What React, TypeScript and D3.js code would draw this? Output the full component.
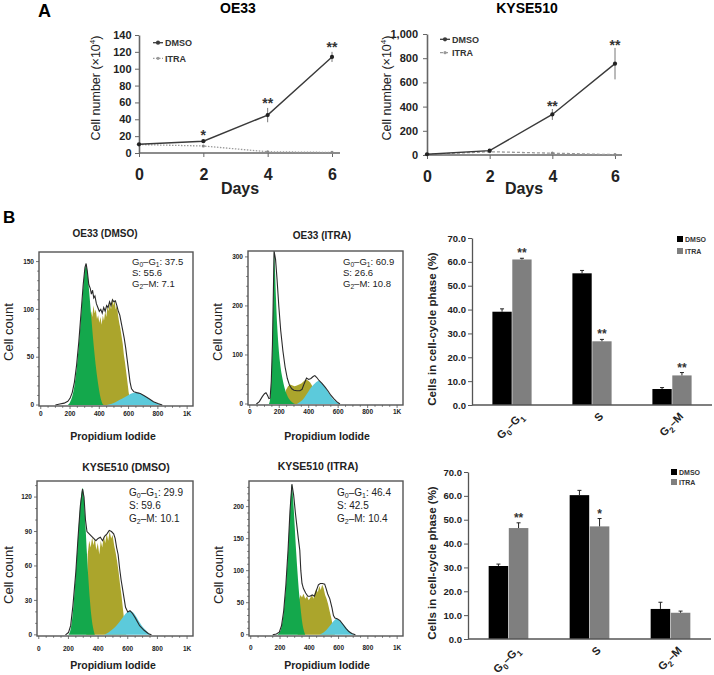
import React, { useEffect, useRef } from 'react';
import * as d3 from 'd3';

const W = 714;
const H = 675;
const FONT = '"Liberation Sans", Arial, Helvetica, sans-serif';

// ---------- Panel A: growth curves, cell number (x10^4) ----------
const days = [0, 2, 4, 6];

const oe33Dmso = [10.3, 14, 45, 114];
const oe33DmsoErr = [0.6, 2, 8.5, 6];
const oe33Itra = [10, 8.3, 1.5, 0.7];
const oe33Stars = ['', '*', '**', '**'];
const oe33YTicks = [0, 20, 40, 60, 80, 100, 120, 140];

const kyseDmso = [6, 36, 335, 755];
const kyseDmsoErr = [3, 6, 45, 130];
const kyseItra = [5, 27, 15, 3];
const kyseStars = ['', '', '**', '**'];
const kyseYTicks = [0, 200, 400, 600, 800, 1000];

// ---------- Panel B: PI histograms, [channel, cell count] ----------
type Pt = [number, number];

const oe33DmsoG1: Pt[] = [[185, 0], [200, 3], [215, 9], [230, 20], [245, 38], [260, 62], [275, 92], [290, 122], [302, 142], [310, 147], [318, 140], [330, 120], [345, 92], [360, 65], [375, 42], [390, 24], [405, 10], [420, 2], [430, 0]];
const oe33DmsoS: Pt[] = [[315, 0], [325, 60], [335, 88], [345, 98], [352, 92], [360, 104], [368, 96], [376, 100], [384, 90], [392, 94], [400, 86], [408, 92], [416, 84], [424, 94], [432, 88], [440, 98], [448, 92], [456, 104], [464, 98], [472, 108], [480, 100], [488, 112], [496, 104], [504, 110], [512, 100], [520, 104], [528, 94], [536, 86], [544, 80], [552, 72], [560, 64], [568, 52], [576, 44], [584, 34], [592, 24], [600, 14], [608, 6], [615, 0]];
const oe33DmsoG2: Pt[] = [[450, 0], [480, 1], [510, 3], [540, 5.5], [570, 8], [600, 10.5], [630, 12.5], [655, 13], [680, 12], [710, 9.5], [740, 6.5], [770, 3.5], [800, 1.5], [830, 0]];
const oe33DmsoTotal: Pt[] = [[100, 0], [130, 1], [160, 2], [185, 4], [200, 7], [215, 13], [230, 24], [245, 42], [260, 66], [275, 96], [290, 126], [302, 144], [310, 148], [318, 140], [328, 126], [338, 122], [346, 116], [354, 120], [362, 112], [370, 114], [380, 106], [390, 102], [400, 98], [410, 100], [420, 96], [430, 102], [440, 98], [450, 104], [460, 102], [470, 108], [480, 104], [490, 110], [500, 108], [510, 109], [520, 104], [530, 98], [540, 94], [550, 86], [560, 78], [570, 70], [580, 60], [590, 48], [600, 36], [610, 24], [620, 17], [635, 14], [655, 13], [680, 12], [710, 9.5], [740, 6.5], [770, 3.5], [800, 1.5], [830, 0]];

const oe33ItraG1: Pt[] = [[130, 0], [138, 10], [146, 45], [154, 120], [160, 220], [165, 312], [171, 275], [178, 215], [186, 160], [195, 118], [205, 85], [218, 58], [232, 38], [248, 22], [265, 11], [285, 4], [307, 0]];
const oe33ItraS: Pt[] = [[230, 0], [245, 28], [260, 36], [275, 40], [290, 38], [305, 36], [320, 38], [335, 40], [350, 42], [365, 46], [380, 50], [395, 48], [410, 44], [425, 36], [440, 24], [455, 10], [470, 0]];
const oe33ItraG2: Pt[] = [[320, 0], [345, 5], [370, 13], [395, 24], [420, 35], [445, 43], [465, 47], [485, 44], [510, 35], [535, 23], [560, 12], [585, 5], [610, 0]];
const oe33ItraTotal: Pt[] = [[45, 0], [65, 5], [85, 15], [100, 21], [110, 23], [120, 18], [130, 11], [138, 12], [146, 46], [154, 122], [160, 225], [165, 312], [175, 295], [185, 255], [197, 200], [210, 150], [225, 108], [240, 75], [255, 52], [270, 38], [285, 31], [300, 28], [320, 27], [340, 27], [355, 30], [370, 42], [385, 53], [400, 50], [415, 52], [430, 56], [442, 58], [455, 54], [470, 48], [490, 42], [510, 35], [530, 27], [550, 18], [570, 11], [590, 5], [612, 0]];

const kyseDmsoG1: Pt[] = [[200, 0], [215, 5], [230, 20], [245, 45], [260, 75], [275, 105], [290, 125], [297, 128], [305, 118], [315, 95], [325, 70], [335, 48], [345, 30], [355, 16], [365, 7], [378, 0]];
const kyseDmsoS: Pt[] = [[320, 0], [330, 70], [340, 82], [350, 76], [360, 85], [368, 78], [378, 84], [388, 74], [398, 80], [408, 70], [418, 82], [428, 76], [438, 86], [448, 80], [458, 88], [468, 82], [478, 90], [488, 84], [498, 87], [508, 78], [518, 72], [528, 64], [538, 55], [548, 44], [558, 34], [568, 22], [578, 10], [590, 0]];
const kyseDmsoG2: Pt[] = [[440, 0], [470, 2], [500, 5], [530, 9], [560, 14], [590, 19], [615, 21], [640, 19], [670, 13], [700, 7], [730, 3], [755, 0]];
const kyseDmsoTotal: Pt[] = [[180, 0], [200, 2], [215, 8], [230, 25], [250, 55], [265, 85], [280, 112], [295, 127], [305, 120], [315, 100], [325, 90], [340, 88], [355, 86], [370, 84], [385, 82], [400, 84], [415, 85], [430, 82], [445, 86], [460, 88], [475, 91], [490, 90], [505, 88], [515, 84], [525, 76], [535, 70], [545, 58], [555, 48], [565, 40], [575, 32], [585, 24], [600, 20], [615, 21], [630, 19], [650, 15], [680, 8], [710, 4], [740, 1], [760, 0]];

const kyseItraG1: Pt[] = [[180, 0], [195, 3], [210, 12], [225, 35], [240, 75], [255, 130], [268, 190], [281, 234], [290, 210], [300, 170], [310, 130], [320, 95], [330, 65], [340, 42], [350, 22], [360, 9], [372, 0]];
const kyseItraS: Pt[] = [[320, 0], [330, 55], [340, 62], [350, 58], [360, 64], [372, 56], [384, 60], [396, 54], [408, 58], [418, 62], [428, 56], [438, 66], [448, 72], [458, 66], [468, 76], [478, 70], [488, 78], [498, 72], [508, 62], [518, 56], [528, 48], [540, 36], [552, 24], [562, 12], [575, 0]];
const kyseItraG2: Pt[] = [[470, 0], [495, 3], [520, 8], [545, 15], [565, 21], [585, 25], [605, 23], [630, 17], [655, 10], [680, 4], [712, 0]];
const kyseItraTotal: Pt[] = [[150, 0], [175, 1], [195, 4], [210, 14], [225, 37], [240, 78], [255, 133], [268, 193], [281, 235], [293, 218], [305, 190], [315, 170], [325, 150], [335, 132], [342, 100], [350, 80], [360, 72], [375, 65], [390, 60], [405, 60], [420, 62], [435, 60], [450, 70], [462, 78], [475, 80], [490, 80], [505, 79], [515, 72], [525, 64], [540, 56], [555, 42], [565, 30], [575, 26], [590, 25], [610, 22], [630, 16], [650, 10], [670, 5], [690, 2], [715, 0]];

const piTicks = [0, 200, 400, 600, 800, 1000];

// ---------- Panel B: cell-cycle phase (%) ----------
const phases = ['G0–G1', 'S', 'G2–M'];
const groups = ['DMSO', 'ITRA'];
const pctTicks = [0, 10, 20, 30, 40, 50, 60, 70];

const oe33PhaseDmso = [39.1, 55.2, 6.7];
const oe33PhaseDmsoErr = [1.2, 1.2, 0.6];
const oe33PhaseItra = [61.0, 26.7, 12.4];
const oe33PhaseItraErr = [0.5, 0.8, 1.2];
const oe33PhaseStars = ['**', '**', '**'];

const kysePhaseDmso = [30.6, 60.3, 12.6];
const kysePhaseDmsoErr = [0.8, 2.0, 2.8];
const kysePhaseItra = [46.5, 47.2, 11.0];
const kysePhaseItraErr = [2.2, 3.3, 0.7];
const kysePhaseStars = ['**', '*', ''];

const GREEN = '#14a84c';
const OLIVE = '#aba52c';
const CYAN = '#5ccadb';

type Part = [string, boolean];
const phaseParts: Part[][] = [
  [['G', false], ['0', true], ['–G', false], ['1', true]],
  [['S', false]],
  [['G', false], ['2', true], ['–M', false]],
];

function rich(text: any, parts: Part[], subSize: number, shiftRatio = 0.45) {
  let down = false;
  const shift = subSize * shiftRatio;
  parts.forEach(([s, sub]) => {
    const t = text.append('tspan').text(s);
    if (sub) {
      t.attr('font-size', subSize);
      if (!down) { t.attr('dy', shift); down = true; }
    } else if (down) {
      t.attr('dy', -shift);
      down = false;
    }
  });
}

function drawGrowth(svg: any, o: any) {
  const g = svg.append('g');
  const x = d3.scaleLinear().domain([0, 6]).range([o.left, o.right]);
  const y = d3.scaleLinear().domain([0, o.yMax]).range([o.bottom, o.top]);

  g.append('text').attr('x', o.titleX).attr('y', 12.5).attr('text-anchor', 'middle')
    .attr('font-size', 14).attr('font-weight', 'bold').text(o.title);

  const ya = g.append('g').attr('transform', `translate(${o.left},0)`)
    .call(d3.axisLeft(y).tickValues(o.yTicks).tickSize(4).tickSizeOuter(0).tickPadding(o.tickPad).tickFormat(o.fmt));
  ya.select('.domain').attr('stroke', '#666').attr('stroke-width', 1.6);
  ya.selectAll('.tick line').attr('stroke', '#666');
  ya.selectAll('text').attr('font-size', 11).attr('font-weight', 'bold').attr('font-family', FONT).attr('fill', '#222');

  const xa = g.append('g').attr('transform', `translate(0,${o.bottom})`)
    .call(d3.axisBottom(x).tickValues(days).tickSize(4).tickSizeOuter(0).tickPadding(12).tickFormat(d3.format('d')));
  xa.select('.domain').remove();
  xa.selectAll('.tick line').attr('stroke', '#666');
  xa.selectAll('text').attr('font-size', 16).attr('font-weight', 'bold').attr('font-family', FONT).attr('fill', '#222');
  g.append('line').attr('x1', o.left).attr('x2', o.axisEnd).attr('y1', y(0)).attr('y2', y(0))
    .attr('stroke', '#666').attr('stroke-width', 1.6);

  g.append('text').attr('x', o.daysX).attr('y', 194).attr('text-anchor', 'middle')
    .attr('font-size', 16).attr('font-weight', 'bold').attr('fill', '#222').text('Days');

  const yl = g.append('text').attr('transform', `translate(${o.labelX},${o.labelY}) rotate(-90)`)
    .attr('text-anchor', 'middle').attr('font-size', 12.5).attr('fill', '#222');
  yl.append('tspan').text('Cell number (×10');
  yl.append('tspan').text('4').attr('font-size', 8).attr('dy', -5);
  yl.append('tspan').text(')').attr('dy', 5);

  const line = d3.line<number>().x((_, i) => x(days[i])).y(v => y(v));

  // ITRA
  g.append('path').datum(o.itra).attr('d', line).attr('fill', 'none')
    .attr('stroke', '#9a9a9a').attr('stroke-width', 1.3).attr('stroke-dasharray', o.itraDash);
  g.selectAll(null).data(o.itra).enter().append('circle')
    .attr('cx', (_: any, i: number) => x(days[i])).attr('cy', (v: number) => y(v)).attr('r', 1.6).attr('fill', '#888');

  // DMSO error bars
  g.selectAll(null).data(o.dmso).enter().append('line')
    .attr('x1', (_: any, i: number) => x(days[i])).attr('x2', (_: any, i: number) => x(days[i]))
    .attr('y1', (v: number, i: number) => y(v - o.err[i])).attr('y2', (v: number, i: number) => y(v + o.err[i]))
    .attr('stroke', '#777').attr('stroke-width', 1);
  g.append('path').datum(o.dmso).attr('d', line).attr('fill', 'none')
    .attr('stroke', '#3a3a3a').attr('stroke-width', 1.4);
  g.selectAll(null).data(o.dmso).enter().append('circle')
    .attr('cx', (_: any, i: number) => x(days[i])).attr('cy', (v: number) => y(v)).attr('r', 2.1).attr('fill', '#222');

  g.selectAll(null).data(o.dmso).enter().append('text')
    .attr('x', (_: any, i: number) => x(days[i])).attr('y', (v: number, i: number) => y(v + o.err[i]) + o.starDy)
    .attr('text-anchor', 'middle').attr('font-size', 14).attr('font-weight', 'bold').attr('fill', '#333')
    .text((_: any, i: number) => o.stars[i]);

  // legend
  const items = [
    { label: 'DMSO', dash: null, color: '#3a3a3a', r: 2.1 },
    { label: 'ITRA', dash: o.itraDash, color: '#9a9a9a', r: 1.6 },
  ];
  items.forEach((it, i) => {
    const ly = o.legendY[i];
    g.append('line').attr('x1', o.legendX).attr('x2', o.legendX + 10).attr('y1', ly).attr('y2', ly)
      .attr('stroke', it.color).attr('stroke-width', 1.3).attr('stroke-dasharray', it.dash);
    g.append('circle').attr('cx', o.legendX + 5).attr('cy', ly).attr('r', it.r).attr('fill', it.color);
    g.append('text').attr('x', o.legendX + 12).attr('y', ly + 3.3).attr('font-size', 9)
      .attr('font-weight', 'bold').attr('fill', '#333').text(it.label);
  });
}

function drawHist(svg: any, o: any) {
  const g = svg.append('g');
  const x = d3.scaleLinear().domain([-12, 1040]).range([o.left, o.right]);
  const y = d3.scaleLinear().domain(o.yDomain).range([o.bottom, o.top]);
  const area = (c: any) => d3.area<Pt>().x(d => x(d[0])).y0(y(0)).y1(d => y(d[1])).curve(c);

  g.append('text').attr('x', o.titleX).attr('y', o.titleY).attr('text-anchor', 'middle')
    .attr('font-size', o.titleSize).attr('font-weight', 'bold').attr('fill', '#222').text(o.title);

  g.append('path').datum(o.s).attr('d', area(d3.curveLinear)).attr('fill', OLIVE);
  g.append('path').datum(o.g1).attr('d', area(d3.curveMonotoneX)).attr('fill', GREEN);
  g.append('path').datum(o.g2).attr('d', area(d3.curveMonotoneX)).attr('fill', CYAN);
  g.append('path').datum(o.total)
    .attr('d', d3.line<Pt>().x(d => x(d[0])).y(d => y(d[1])).curve(d3.curveLinear))
    .attr('fill', 'none').attr('stroke', '#2a2a2a').attr('stroke-width', 1.1);

  g.append('rect').attr('x', o.left).attr('y', o.top).attr('width', o.right - o.left)
    .attr('height', o.bottom - o.top).attr('fill', 'none').attr('stroke', '#555').attr('stroke-width', 1.4);

  // x axis (PI)
  const minorX = d3.range(0, 1001, 50);
  g.selectAll(null).data(minorX).enter().append('line')
    .attr('x1', (d: number) => x(d)).attr('x2', (d: number) => x(d))
    .attr('y1', o.bottom).attr('y2', (d: number) => o.bottom + (d % 200 === 0 ? 3 : 1.8))
    .attr('stroke', '#555').attr('stroke-width', 0.8);
  g.selectAll(null).data(piTicks).enter().append('text')
    .attr('x', (d: number) => x(d)).attr('y', o.xLabelY).attr('text-anchor', 'middle')
    .attr('font-size', 6.5).attr('font-weight', 'bold').attr('fill', '#222')
    .text((d: number) => (d === 1000 ? '1K' : String(d)));

  // y axis (count)
  const minorY = d3.range(0, o.yDomain[1], o.yMinor);
  g.selectAll(null).data(minorY).enter().append('line')
    .attr('x1', (d: number) => o.left - (o.yTicks.includes(d) ? 3 : 1.8)).attr('x2', o.left)
    .attr('y1', (d: number) => y(d)).attr('y2', (d: number) => y(d))
    .attr('stroke', '#555').attr('stroke-width', 0.8);
  g.selectAll(null).data(o.yTicks).enter().append('text')
    .attr('x', o.left - 5).attr('y', (d: number) => y(d)).attr('dy', '0.35em').attr('text-anchor', 'end')
    .attr('font-size', 6.5).attr('font-weight', 'bold').attr('fill', '#222').text((d: number) => String(d));

  g.append('text').attr('transform', `translate(${o.ylabX},${o.ylabY}) rotate(-90)`)
    .attr('text-anchor', 'middle').attr('font-size', 13).attr('fill', '#222').text('Cell count');
  g.append('text').attr('x', o.piX).attr('y', o.piY).attr('text-anchor', 'middle')
    .attr('font-size', 10.5).attr('font-weight', 'bold').attr('fill', '#222').text('Propidium Iodide');

  o.ann.forEach((v: number, i: number) => {
    const t = g.append('text').attr('x', o.annX).attr('y', o.annY[i])
      .attr('font-size', o.annSize).attr('fill', '#222');
    rich(t, [...phaseParts[i], [`: ${d3.format('.1f')(v)}`, false] as Part], o.annSize * 0.7, 0.3);
  });
}

function drawBars(svg: any, o: any) {
  const g = svg.append('g');
  const x0 = d3.scaleBand().domain(phases).range([o.left, o.right]).paddingInner(0.51).paddingOuter(0.255);
  const x1 = d3.scaleBand().domain(groups).range([0, x0.bandwidth()]).paddingInner(0.03);
  const y = d3.scaleLinear().domain([0, 70]).range([o.bottom, o.top]);

  const ya = g.append('g').attr('transform', `translate(${o.left},0)`)
    .call(d3.axisLeft(y).tickValues(pctTicks).tickSize(4).tickSizeOuter(0).tickPadding(2).tickFormat(d3.format('.1f')));
  ya.select('.domain').attr('stroke', '#555').attr('stroke-width', 1.3);
  ya.selectAll('.tick line').attr('stroke', '#555');
  ya.selectAll('text').attr('font-size', 9.5).attr('font-weight', 'bold').attr('font-family', FONT).attr('fill', '#222');

  const series = [
    { key: 'DMSO', vals: o.dmso, err: o.dmsoErr, color: '#000' },
    { key: 'ITRA', vals: o.itra, err: o.itraErr, color: '#7f7f7f' },
  ];
  series.forEach(s => {
    phases.forEach((p, i) => {
      const bx = x0(p)! + x1(s.key)!;
      const cx = bx + x1.bandwidth() / 2;
      const v = s.vals[i];
      g.append('rect').attr('x', bx).attr('y', y(v)).attr('width', x1.bandwidth())
        .attr('height', y(0) - y(v)).attr('fill', s.color);
      g.append('line').attr('x1', cx).attr('x2', cx).attr('y1', y(v)).attr('y2', y(v + s.err[i]))
        .attr('stroke', '#222').attr('stroke-width', 1);
      g.append('line').attr('x1', cx - 2).attr('x2', cx + 2).attr('y1', y(v + s.err[i])).attr('y2', y(v + s.err[i]))
        .attr('stroke', '#222').attr('stroke-width', 1);
      if (s.key === 'ITRA' && o.stars[i]) {
        g.append('text').attr('x', cx).attr('y', y(v + s.err[i]) - 1).attr('text-anchor', 'middle')
          .attr('font-size', 12).attr('font-weight', 'bold').attr('fill', '#333').text(o.stars[i]);
      }
    });
  });

  g.append('line').attr('x1', o.left).attr('x2', o.right).attr('y1', y(0)).attr('y2', y(0))
    .attr('stroke', '#555').attr('stroke-width', 1.5);

  phases.forEach((p, i) => {
    const cx = x0(p)! + x0.bandwidth() / 2;
    const t = g.append('text').attr('transform', `translate(${cx + 12},${o.bottom + 12}) rotate(-45)`)
      .attr('text-anchor', 'end').attr('font-size', 11).attr('font-weight', 'bold').attr('fill', '#222');
    rich(t, phaseParts[i], 8);
  });

  g.append('text').attr('transform', `translate(${o.ylabX},${o.ylabY}) rotate(-90)`)
    .attr('text-anchor', 'middle').attr('font-size', 11.5).attr('font-weight', 'bold').attr('fill', '#222')
    .text('Cells in cell-cycle phase (%)');

  series.forEach((s, i) => {
    const ly = o.legendY[i];
    g.append('rect').attr('x', o.legendX).attr('y', ly - 3).attr('width', 6).attr('height', 6).attr('fill', s.color);
    g.append('text').attr('x', o.legendX + 8).attr('y', ly + 2.5).attr('font-size', 7)
      .attr('font-weight', 'bold').attr('fill', '#333').text(s.key);
  });
}

export default function App() {
  const ref = useRef<SVGSVGElement>(null);

  useEffect(() => {
    const svg = d3.select(ref.current);
    svg.selectAll('*').remove();
    svg.attr('font-family', FONT);

    svg.append('text').attr('x', 38).attr('y', 17).attr('font-size', 18).attr('font-weight', 'bold').text('A');
    svg.append('text').attr('x', 3).attr('y', 223).attr('font-size', 17).attr('font-weight', 'bold').text('B');

    drawGrowth(svg, {
      title: 'OE33', titleX: 238, left: 139, right: 332, axisEnd: 340, bottom: 153, top: 35,
      yMax: 140, yTicks: oe33YTicks, fmt: d3.format('d'), tickPad: 3.5,
      labelX: 100, labelY: 88, daysX: 240, itraDash: '1.5,1.5', starDy: 0,
      dmso: oe33Dmso, err: oe33DmsoErr, itra: oe33Itra, stars: oe33Stars,
      legendX: 153, legendY: [42.7, 58.3],
    });
    drawGrowth(svg, {
      title: 'KYSE510', titleX: 527, left: 427, right: 615, axisEnd: 622, bottom: 155, top: 34,
      yMax: 1000, yTicks: kyseYTicks, fmt: d3.format(','), tickPad: 5,
      labelX: 391, labelY: 88, daysX: 524, itraDash: '3,2', starDy: 2,
      dmso: kyseDmso, err: kyseDmsoErr, itra: kyseItra, stars: kyseStars,
      legendX: 440, legendY: [39.3, 52.7],
    });

    drawHist(svg, {
      title: 'OE33 (DMSO)', titleX: 105, titleY: 237, titleSize: 10,
      left: 39, right: 193, top: 252, bottom: 406, yDomain: [-1, 160], yTicks: [0, 50, 100, 150], yMinor: 10,
      g1: oe33DmsoG1, s: oe33DmsoS, g2: oe33DmsoG2, total: oe33DmsoTotal,
      ann: [37.5, 55.6, 7.1], annX: 132, annY: [265, 276, 287], annSize: 9.5,
      xLabelY: 416, ylabX: 13, ylabY: 332, piX: 113, piY: 440,
    });
    drawHist(svg, {
      title: 'OE33 (ITRA)', titleX: 322, titleY: 239, titleSize: 10,
      left: 248, right: 403, top: 251, bottom: 405, yDomain: [-2, 312], yTicks: [0, 100, 200, 300], yMinor: 20,
      g1: oe33ItraG1, s: oe33ItraS, g2: oe33ItraG2, total: oe33ItraTotal,
      ann: [60.9, 26.6, 10.8], annX: 343, annY: [265, 276, 287], annSize: 9.5,
      xLabelY: 414, ylabX: 222, ylabY: 332, piX: 327, piY: 440,
    });
    drawHist(svg, {
      title: 'KYSE510 (DMSO)', titleX: 126, titleY: 471, titleSize: 10.5,
      left: 37, right: 193, top: 481, bottom: 636, yDomain: [-1, 134], yTicks: [0, 30, 60, 90, 120], yMinor: 10,
      g1: kyseDmsoG1, s: kyseDmsoS, g2: kyseDmsoG2, total: kyseDmsoTotal,
      ann: [29.9, 59.6, 10.1], annX: 129, annY: [496, 509, 522], annSize: 10,
      xLabelY: 651, ylabX: 13, ylabY: 575, piX: 113, piY: 669,
    });
    drawHist(svg, {
      title: 'KYSE510 (ITRA)', titleX: 318, titleY: 470, titleSize: 10.5,
      left: 249, right: 403, top: 481, bottom: 636, yDomain: [-2, 240], yTicks: [0, 50, 100, 150, 200], yMinor: 10,
      g1: kyseItraG1, s: kyseItraS, g2: kyseItraG2, total: kyseItraTotal,
      ann: [46.4, 42.5, 10.4], annX: 337, annY: [496, 509, 522], annSize: 10,
      xLabelY: 650, ylabX: 223, ylabY: 575, piX: 327, piY: 669,
    });

    drawBars(svg, {
      left: 472, right: 712, bottom: 405, top: 238,
      dmso: oe33PhaseDmso, dmsoErr: oe33PhaseDmsoErr, itra: oe33PhaseItra, itraErr: oe33PhaseItraErr,
      stars: oe33PhaseStars, ylabX: 436, ylabY: 329, legendX: 677, legendY: [239, 251],
    });
    drawBars(svg, {
      left: 468, right: 711, bottom: 639, top: 472,
      dmso: kysePhaseDmso, dmsoErr: kysePhaseDmsoErr, itra: kysePhaseItra, itraErr: kysePhaseItraErr,
      stars: kysePhaseStars, ylabX: 436, ylabY: 563, legendX: 671, legendY: [472, 482],
    });
  }, []);

  return (
    <svg ref={ref} width={W} height={H}
      style={{ position: 'absolute', left: 0, top: 0, background: '#fff' }} />
  );
}
